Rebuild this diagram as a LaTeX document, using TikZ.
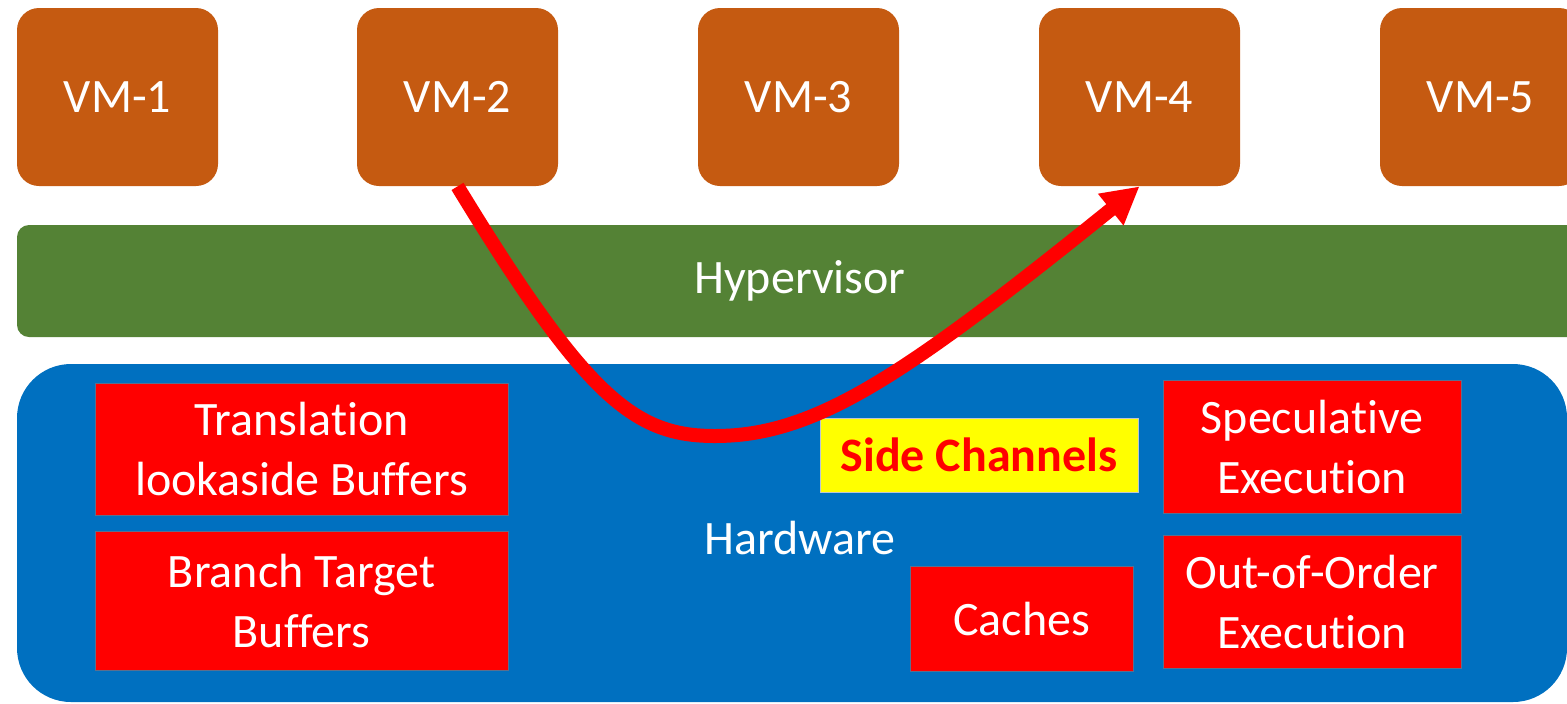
\documentclass[tikz,border=0pt]{standalone}
\usepackage{fontspec}
\setmainfont{Carlito}[Ligatures=NoCommon]
\usetikzlibrary{arrows.meta}
\definecolor{vmorange}{HTML}{C55A11}
\definecolor{hvgreen}{HTML}{548235}
\definecolor{hwblue}{HTML}{0070C0}
\definecolor{partred}{HTML}{FF0000}
\definecolor{partedge}{HTML}{5A6F8F}
\definecolor{hiyellow}{HTML}{FFFF00}
\tikzset{
  vmbox/.style={fill=vmorange, rounded corners=11pt, text=white,
    minimum width=100.5pt, minimum height=89pt, inner sep=0pt},
  layer/.style={text=white, inner sep=0pt},
  partbox/.style={fill=partred, draw=partedge, line width=0.5pt, text=white,
    align=center, inner sep=0pt},
  label/.style={text=white, inner sep=0pt},
  flow/.style={draw=partred, line width=7pt,
    -{Triangle[length=18.5pt,width=19pt]}},
}
\begin{document}
\begin{tikzpicture}[x=0.5pt, y=-0.5pt, font=\fontsize{24pt}{30pt}\selectfont]
\useasboundingbox (0,0) rectangle (1567,703);
\begin{scope}
\clip (0,0) rectangle (1567,703);
% virtual machines
\node[vmbox] (vm1) at (117.5,97) {VM-1};
\node[vmbox] (vm2) at (457.5,97) {VM-2};
\node[vmbox] (vm3) at (798.5,97) {VM-3};
\node[vmbox] (vm4) at (1139.5,97) {VM-4};
\node[vmbox] (vm5) at (1480.5,97) {VM-5};
% hypervisor layer
\node[layer, fill=hvgreen, rounded corners=6pt, minimum width=783pt, minimum height=56pt] (hv) at (800,281) {Hypervisor};
% hardware layer
\node[layer, fill=hwblue, rounded corners=27pt, minimum width=775pt, minimum height=169pt] (hw) at (792,533) {};
\node[label] (hwlabel) at (800,538) {Hardware};
% hardware parts
\node[partbox, minimum width=206.5pt, minimum height=66pt] (tlb) at (301.5,449) {Translation\\lookaside Buffers};
\node[partbox, minimum width=206.5pt, minimum height=69.5pt] (btb) at (301.5,600.5) {Branch Target\\Buffers};
\node[partbox, minimum width=149pt, minimum height=66.5pt] (spec) at (1312,446.5) {Speculative\\Execution};
\node[partbox, minimum width=149pt, minimum height=66.5pt] (ooo) at (1312,601.5) {Out-of-Order\\Execution};
\node[partbox, minimum width=111.5pt, minimum height=52.5pt] (cache) at (1021.5,618.5) {Caches};
\node[fill=hiyellow, draw=partedge!40, line width=0.4pt, text=partred, inner sep=0pt,
  minimum width=159pt, minimum height=37pt, font=\fontsize{24pt}{30pt}\selectfont\bfseries] (side) at (979,455) {Side Channels};
% leak path from VM-2 down into the hardware and up to VM-4
\coordinate (dip) at (715,436);
\draw[flow] (vm2.south) .. controls (587,399) and (635,436) .. (dip)
  .. controls (815,436) and (903,377) .. (vm4.south);
\end{scope}
\end{tikzpicture}
\end{document}
